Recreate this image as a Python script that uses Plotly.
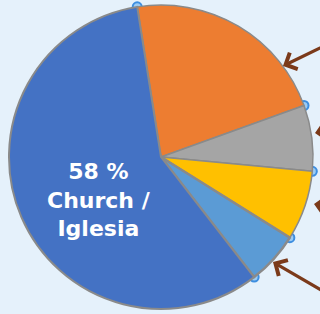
import math
import plotly.graph_objects as go

labels = ["Orange", "Gray", "Yellow", "Light blue", "Church / Iglesia"]
values = [22, 7, 7.4, 5.6, 58]
colors = ["#ed7d31", "#a5a5a5", "#ffc000", "#5b9bd5", "#4472c4"]
text_lines = ["58 %", "Church /", "Iglesia"]
start_angle = -9

W, H = 320, 314
cx, cy, r = 161, 157, 152

fig = go.Figure()
fig.add_trace(go.Pie(
    labels=labels, values=values, sort=False, direction="clockwise",
    rotation=start_angle, textinfo="none", hoverinfo="label+percent",
    marker=dict(colors=colors, line=dict(color="#8a8a8a", width=[1.5, 1.5, 1.5, 2.5, 2])),
    domain=dict(x=[(cx - r) / W, (cx + r) / W], y=[(H - cy - r) / H, (H - cy + r) / H]),
    showlegend=False,
))

# selection handles at the slice corners, derived from the values
total = sum(values)
angles = []
acc = 0
for v in values:
    angles.append(start_angle + 360 * acc / total)
    acc += v
hx = [cx] + [cx + r * math.sin(math.radians(a)) for a in angles]
hy = [cy] + [cy - r * math.cos(math.radians(a)) for a in angles]
fig.add_trace(go.Scatter(x=hx, y=hy, mode="markers", hoverinfo="skip", showlegend=False,
                         marker=dict(size=9, color="#9ccbf3",
                                     line=dict(color="#3d8ee0", width=2))))
fig.update_xaxes(range=[0, W], visible=False, fixedrange=True)
fig.update_yaxes(range=[H, 0], visible=False, fixedrange=True)

brown = "#7b3a1a"
arrows = [
    dict(x=283, y=66, tx=345, ty=36),
    dict(x=315, y=133, tx=360, ty=125),
    dict(x=314, y=204, tx=360, ty=212),
    dict(x=273, y=262, tx=335, ty=298),
]
for a in arrows:
    fig.add_annotation(x=a["x"], y=a["y"], xref="x", yref="y",
                       ax=a["tx"], ay=a["ty"], axref="x", ayref="y",
                       text="", showarrow=True,
                       arrowhead=4, arrowsize=1.1, arrowwidth=3.2, arrowcolor=brown)

fig.add_annotation(x=99 / W, y=1 - 200 / H, xref="paper", yref="paper",
                   text="<b>" + "<br>".join(text_lines) + "</b>", showarrow=False,
                   xanchor="center", yanchor="middle", align="center",
                   font=dict(family="DejaVu Sans", size=22, color="white"))

fig.update_layout(width=W, height=H, margin=dict(l=0, r=0, t=0, b=0),
                  paper_bgcolor="#e5f1fb", plot_bgcolor="rgba(0,0,0,0)")
fig.write_html("out.html", config={"displayModeBar": False},
               post_script="document.body.style.margin='0';")
